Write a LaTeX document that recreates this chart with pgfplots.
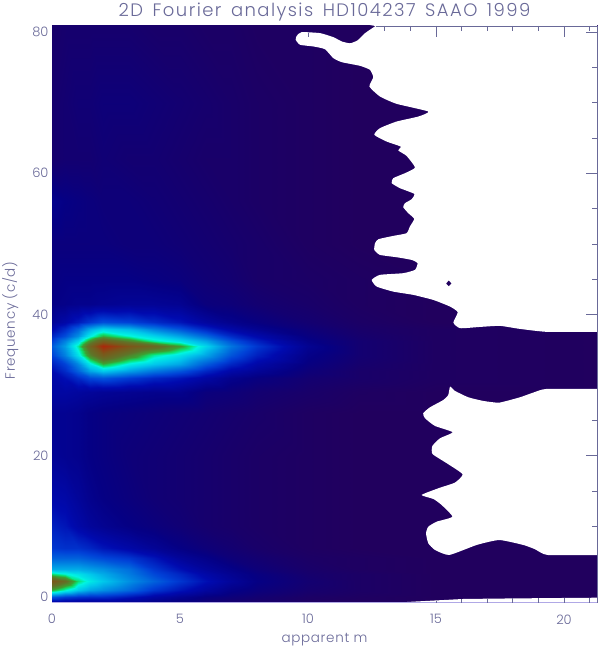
\documentclass[border=0pt]{standalone}
\usepackage{fontspec}
\setmainfont{Poppins}[UprightFont=* Light]
\newfontfamily\titlefont{Poppins}[UprightFont=* Light, LetterSpace=8, WordSpace=1.5]
\newfontfamily\labelfont{Poppins}[UprightFont=* Light, LetterSpace=5]
\usepackage{pgfplots}
\pgfplotsset{compat=1.18}
\definecolor{inkc}{RGB}{105,105,152}
\definecolor{botc}{RGB}{176,168,230}
\pgfplotsset{
  colormap={idl}{
    rgb255(0cm)=(33,0,94); rgb255(10cm)=(5,0,132); rgb255(20cm)=(0,10,175);
    rgb255(30cm)=(0,65,215); rgb255(40cm)=(0,130,225); rgb255(50cm)=(0,200,235);
    rgb255(57cm)=(0,245,225); rgb255(62cm)=(10,225,110); rgb255(67cm)=(60,160,50);
    rgb255(75cm)=(95,115,40); rgb255(88cm)=(125,85,25); rgb255(100cm)=(170,40,10)
  },
  common/.style={
    scale only axis, width=545pt, height=577pt, at={(0,0)}, anchor=south west,
    xmin=0, xmax=21.29, ymin=-0.85, ymax=80.85,
  },
}
\begin{document}
\begin{tikzpicture}
\useasboundingbox (-52pt,-47pt) rectangle (548pt,603pt);
\begin{axis}[
  common,
  title={2D Fourier analysis HD104237 SAAO 1999},
  title style={font=\titlefont\fontsize{18}{20}\selectfont, text=inkc, yshift=-5pt},
  xlabel={apparent m}, ylabel={Frequency (c/d)},
  label style={font=\labelfont\fontsize{13.5}{15}\selectfont, text=inkc},
  xlabel style={yshift=-2pt}, ylabel style={yshift=7pt, xshift=-6pt},
  xticklabel style={yshift=-8pt},
  xtick={0,5,10,15,20}, ytick={0,20,40,60,80},
  tick label style={font=\fontsize{13}{15}\selectfont, text=inkc},
  /pgf/number format/assume math mode=true,
  tick style={draw=none}, axis line style={draw=none},
  point meta min=0, point meta max=1,
  colormap name=idl,
]
\addplot[surf, shader=interp, mesh/rows=29, mesh/cols=15, point meta=explicit] coordinates {
(0,-1)[.10] (.5,-1)[.10] (1,-1)[.10] (1.5,-1)[.10] (2,-1)[.10] (3,-1)[.09] (4,-1)[.08] (5,-1)[.06] (6,-1)[.05] (7,-1)[.03] (8,-1)[.02] (10,-1)[.01] (12,-1)[0] (15,-1)[0] (22,-1)[0]
(0,0)[.33] (.5,0)[.29] (1,0)[.27] (1.5,0)[.26] (2,0)[.26] (3,0)[.22] (4,0)[.17] (5,0)[.13] (6,0)[.09] (7,0)[.07] (8,0)[.05] (10,0)[.02] (12,0)[.01] (15,0)[0] (22,0)[0]
(0,1)[.66] (.5,1)[.58] (1,1)[.50] (1.5,1)[.45] (2,1)[.42] (3,1)[.36] (4,1)[.28] (5,1)[.22] (6,1)[.16] (7,1)[.11] (8,1)[.08] (10,1)[.04] (12,1)[.02] (15,1)[0] (22,1)[0]
(0,2.3)[.88] (.5,2.3)[.78] (1,2.3)[.62] (1.5,2.3)[.55] (2,2.3)[.50] (3,2.3)[.42] (4,2.3)[.35] (5,2.3)[.28] (6,2.3)[.21] (7,2.3)[.15] (8,2.3)[.10] (10,2.3)[.05] (12,2.3)[.02] (15,2.3)[0] (22,2.3)[0]
(0,3.2)[.62] (.5,3.2)[.58] (1,3.2)[.54] (1.5,3.2)[.50] (2,3.2)[.46] (3,3.2)[.39] (4,3.2)[.31] (5,3.2)[.25] (6,3.2)[.18] (7,3.2)[.13] (8,3.2)[.09] (10,3.2)[.04] (12,3.2)[.02] (15,3.2)[0] (22,3.2)[0]
(0,4)[.46] (.5,4)[.46] (1,4)[.46] (1.5,4)[.44] (2,4)[.42] (3,4)[.37] (4,4)[.28] (5,4)[.21] (6,4)[.15] (7,4)[.11] (8,4)[.07] (10,4)[.03] (12,4)[.01] (15,4)[0] (22,4)[0]
(0,5.5)[.35] (.5,5.5)[.35] (1,5.5)[.35] (1.5,5.5)[.33] (2,5.5)[.31] (3,5.5)[.28] (4,5.5)[.22] (5,5.5)[.15] (6,5.5)[.11] (7,5.5)[.07] (8,5.5)[.05] (10,5.5)[.02] (12,5.5)[.01] (15,5.5)[0] (22,5.5)[0]
(0,7)[.28] (.5,7)[.27] (1,7)[.27] (1.5,7)[.25] (2,7)[.22] (3,7)[.18] (4,7)[.14] (5,7)[.10] (6,7)[.07] (7,7)[.05] (8,7)[.03] (10,7)[.01] (12,7)[0] (15,7)[0] (22,7)[0]
(0,10)[.24] (.5,10)[.22] (1,10)[.18] (1.5,10)[.15] (2,10)[.13] (3,10)[.10] (4,10)[.08] (5,10)[.06] (6,10)[.04] (7,10)[.03] (8,10)[.02] (10,10)[.01] (12,10)[0] (15,10)[0] (22,10)[0]
(0,14)[.19] (.5,14)[.18] (1,14)[.15] (1.5,14)[.12] (2,14)[.10] (3,14)[.08] (4,14)[.06] (5,14)[.05] (6,14)[.04] (7,14)[.03] (8,14)[.02] (10,14)[.01] (12,14)[0] (15,14)[0] (22,14)[0]
(0,20)[.14] (.5,20)[.13] (1,20)[.12] (1.5,20)[.10] (2,20)[.09] (3,20)[.07] (4,20)[.06] (5,20)[.05] (6,20)[.04] (7,20)[.03] (8,20)[.02] (10,20)[.01] (12,20)[0] (15,20)[0] (22,20)[0]
(0,26)[.13] (.5,26)[.13] (1,26)[.12] (1.5,26)[.10] (2,26)[.09] (3,26)[.08] (4,26)[.07] (5,26)[.06] (6,26)[.05] (7,26)[.04] (8,26)[.03] (10,26)[.01] (12,26)[0] (15,26)[0] (22,26)[0]
(0,29)[.17] (.5,29)[.17] (1,29)[.16] (1.5,29)[.15] (2,29)[.14] (3,29)[.13] (4,29)[.12] (5,29)[.12] (6,29)[.08] (7,29)[.07] (8,29)[.05] (10,29)[.03] (12,29)[.01] (15,29)[0] (22,29)[0]
(0,31)[.18] (.5,31)[.21] (1,31)[.26] (1.5,31)[.31] (2,31)[.33] (3,31)[.29] (4,31)[.25] (5,31)[.22] (6,31)[.17] (7,31)[.12] (8,31)[.09] (10,31)[.05] (12,31)[.03] (15,31)[.01] (22,31)[0]
(0,32)[.20] (.5,32)[.26] (1,32)[.35] (1.5,32)[.45] (2,32)[.50] (3,32)[.44] (4,32)[.38] (5,32)[.33] (6,32)[.25] (7,32)[.18] (8,32)[.14] (10,32)[.07] (12,32)[.03] (15,32)[.01] (22,32)[0]
(0,33)[.24] (.5,33)[.30] (1,33)[.41] (1.5,33)[.55] (2,33)[.66] (3,33)[.56] (4,33)[.50] (5,33)[.45] (6,33)[.34] (7,33)[.25] (8,33)[.18] (10,33)[.09] (12,33)[.04] (15,33)[.01] (22,33)[0]
(0,34.25)[.30] (.5,34.25)[.40] (1,34.25)[.54] (1.5,34.25)[.72] (2,34.25)[.85] (3,34.25)[.72] (4,34.25)[.60] (5,34.25)[.54] (6,34.25)[.45] (7,34.25)[.33] (8,34.25)[.24] (10,34.25)[.11] (12,34.25)[.05] (15,34.25)[.01] (22,34.25)[0]
(0,35.5)[.34] (.5,35.5)[.44] (1,35.5)[.60] (1.5,35.5)[.82] (2,35.5)[1] (3,35.5)[.88] (4,35.5)[.80] (5,35.5)[.68] (6,35.5)[.52] (7,35.5)[.38] (8,35.5)[.28] (10,35.5)[.13] (12,35.5)[.05] (15,35.5)[.01] (22,35.5)[0]
(0,36.25)[.30] (.5,36.25)[.40] (1,36.25)[.52] (1.5,36.25)[.70] (2,36.25)[.84] (3,36.25)[.72] (4,36.25)[.60] (5,36.25)[.54] (6,36.25)[.45] (7,36.25)[.33] (8,36.25)[.24] (10,36.25)[.11] (12,36.25)[.05] (15,36.25)[.01] (22,36.25)[0]
(0,37)[.25] (.5,37)[.32] (1,37)[.42] (1.5,37)[.56] (2,37)[.66] (3,37)[.58] (4,37)[.52] (5,37)[.45] (6,37)[.36] (7,37)[.26] (8,37)[.19] (10,37)[.09] (12,37)[.04] (15,37)[.01] (22,37)[0]
(0,38)[.19] (.5,38)[.26] (1,38)[.35] (1.5,38)[.46] (2,38)[.52] (3,38)[.48] (4,38)[.40] (5,38)[.33] (6,38)[.25] (7,38)[.18] (8,38)[.13] (10,38)[.07] (12,38)[.03] (15,38)[.01] (22,38)[0]
(0,39)[.14] (.5,39)[.18] (1,39)[.23] (1.5,39)[.28] (2,39)[.32] (3,39)[.30] (4,39)[.26] (5,39)[.22] (6,39)[.16] (7,39)[.12] (8,39)[.09] (10,39)[.05] (12,39)[.02] (15,39)[0] (22,39)[0]
(0,41.5)[.10] (.5,41.5)[.11] (1,41.5)[.12] (1.5,41.5)[.12] (2,41.5)[.13] (3,41.5)[.14] (4,41.5)[.14] (5,41.5)[.13] (6,41.5)[.08] (7,41.5)[.07] (8,41.5)[.05] (10,41.5)[.03] (12,41.5)[.01] (15,41.5)[0] (22,41.5)[0]
(0,45)[.09] (.5,45)[.10] (1,45)[.10] (1.5,45)[.10] (2,45)[.10] (3,45)[.10] (4,45)[.09] (5,45)[.08] (6,45)[.06] (7,45)[.05] (8,45)[.03] (10,45)[.02] (12,45)[.01] (15,45)[0] (22,45)[0]
(0,50)[.08] (.5,50)[.08] (1,50)[.08] (1.5,50)[.08] (2,50)[.08] (3,50)[.07] (4,50)[.07] (5,50)[.06] (6,50)[.05] (7,50)[.04] (8,50)[.03] (10,50)[.01] (12,50)[0] (15,50)[0] (22,50)[0]
(0,56)[.12] (.5,56)[.10] (1,56)[.09] (1.5,56)[.08] (2,56)[.07] (3,56)[.07] (4,56)[.06] (5,56)[.05] (6,56)[.04] (7,56)[.03] (8,56)[.02] (10,56)[.01] (12,56)[0] (15,56)[0] (22,56)[0]
(0,62)[.04] (.5,62)[.05] (1,62)[.05] (1.5,62)[.05] (2,62)[.06] (3,62)[.05] (4,62)[.05] (5,62)[.04] (6,62)[.03] (7,62)[.03] (8,62)[.02] (10,62)[.01] (12,62)[0] (15,62)[0] (22,62)[0]
(0,70)[.04] (.5,70)[.05] (1,70)[.06] (1.5,70)[.06] (2,70)[.07] (3,70)[.07] (4,70)[.06] (5,70)[.05] (6,70)[.04] (7,70)[.03] (8,70)[.02] (10,70)[.01] (12,70)[0] (15,70)[0] (22,70)[0]
(0,81)[.03] (.5,81)[.04] (1,81)[.04] (1.5,81)[.04] (2,81)[.04] (3,81)[.04] (4,81)[.03] (5,81)[.03] (6,81)[.02] (7,81)[.02] (8,81)[.01] (10,81)[.01] (12,81)[0] (15,81)[0] (22,81)[0]
};
% unpainted region above the 37.5 c/d band
\addplot[fill=white, draw=none, smooth, tension=0.3] coordinates {
(12.64,80.85) (12.23,79.84) (11.93,78.8) (11.64,78.4) (11.32,78.66) (10.99,79.27) (10.47,79.84)
(9.75,79.98) (9.56,79.46) (9.52,78.9) (9.69,78.19) (10.21,77.95) (10.66,77.57) (10.99,76.3)
(11.32,75.73) (12.03,75.21) (12.42,74.65) (12.55,73.6) (12.4,72.28) (12.81,70.87) (13.46,69.83)
(14.7,68.74) (14.31,68.03) (13.46,67.32) (12.81,66.38) (12.59,65.44) (13.07,64.49) (13.62,63.78)
(13.53,63.22) (13.85,62.46) (14.18,60.81) (13.79,60.01) (13.33,59.3) (13.27,58.6) (13.59,57.89)
(14.15,57.08) (14.05,56.33) (13.79,55.76) (13.72,55.2) (13.92,54.34) (14.15,53.54) (13.98,52.45)
(13.85,51.51) (13.33,51.13) (12.75,50.66) (12.62,50.09) (12.59,49.15) (12.81,48.44) (13.46,48.11)
(14.05,47.73) (14.28,47.26) (14.18,46.32) (13.72,45.85) (12.81,45.61) (12.49,44.9) (12.68,43.96)
(13.33,43.24) (14.11,42.78) (14.89,42.07) (15.55,41.12) (15.85,40.33) (15.68,38.85) (15.94,38.06)
(16.72,38.24) (17.5,38.39) (18.28,37.96) (19.34,37.54) (21.29,37.54) (21.4,37.54) (21.4,81) (12.4,81)
} -- cycle;
% isolated spot inside it
\addplot[fill={rgb,255:red,33;green,0;blue,94}, draw=none] coordinates {
(15.4,44.4) (15.5,44.8) (15.6,44.4) (15.5,44.0)
} -- cycle;
% unpainted region between the bands
\addplot[fill=white, draw=none, smooth, tension=0.3] coordinates {
(21.4,29.46) (19.32,29.46) (18.8,28.94) (18.28,28.28) (17.47,27.52) (16.85,27.76) (16.26,28.28)
(15.74,29.18) (15.55,29.79) (15.48,28.61) (15.29,27.9) (14.77,26.87) (14.5,26.02) (14.57,25.31)
(14.96,24.22) (15.65,23.33) (15.16,22.48) (14.86,21.39) (14.86,20.26) (15.42,18.94) (16.04,17.38)
(15.74,16.19) (15.16,15.48) (14.44,14.45) (14.9,13.88) (15.22,13.03) (15.64,11.37) (15.03,10.67)
(14.7,9.96) (14.61,9.02) (14.7,7.61) (14.96,6.66) (15.52,5.95) (16.59,7.37) (17.47,8.07)
(18.41,7.37) (18.87,6.76) (19.36,5.95) (21.4,5.95)
} -- cycle;
% sliver along the bottom
\addplot[fill=white, draw=none] coordinates {
(13.2,-0.85) (14.1,-0.66) (16.07,-0.28) (18,-0.2) (21.29,-0.1) (21.29,-0.85)
} -- cycle;
\end{axis}
\begin{axis}[
  common, clip=false,
  axis line style={draw=none},
  xtick pos=upper, ytick pos=upper, tick align=inside,
  xtick={15,20}, minor xtick={13,14,16,17,18,19,21},
  ytick={20,40,60,80}, minor ytick={10,15,25,45,50,55,65,70,75},
  xticklabels={}, yticklabels={},
  major tick length=11pt, minor tick length=5pt,
  tick style={inkc, line width=0.7pt},
  unbounded coords=jump,
]
\addplot[inkc, line width=0.7pt] coordinates {
(12.64,80.85) (21.29,80.85) (21.29,-0.85)
};
\addplot[botc, line width=1pt] coordinates {(0,-0.85) (21.29,-0.85)};
% ticks that show only where the image leaves white
\addplot[inkc, line width=0.7pt] coordinates {
(10,79.9) (10,79.3) (10,nan)
(15,-0.85) (15,-0.5) (15,nan) (16,-0.85) (16,-0.3) (16,nan) (17,-0.85) (17,-0.24) (17,nan)
(18,-0.85) (18,-0.2) (18,nan) (19,-0.85) (19,-0.17) (19,nan) (20,-0.85) (20,-0.14) (20,nan)
(21,-0.85) (21,-0.11)
};
\end{axis}
\end{tikzpicture}
\end{document}
